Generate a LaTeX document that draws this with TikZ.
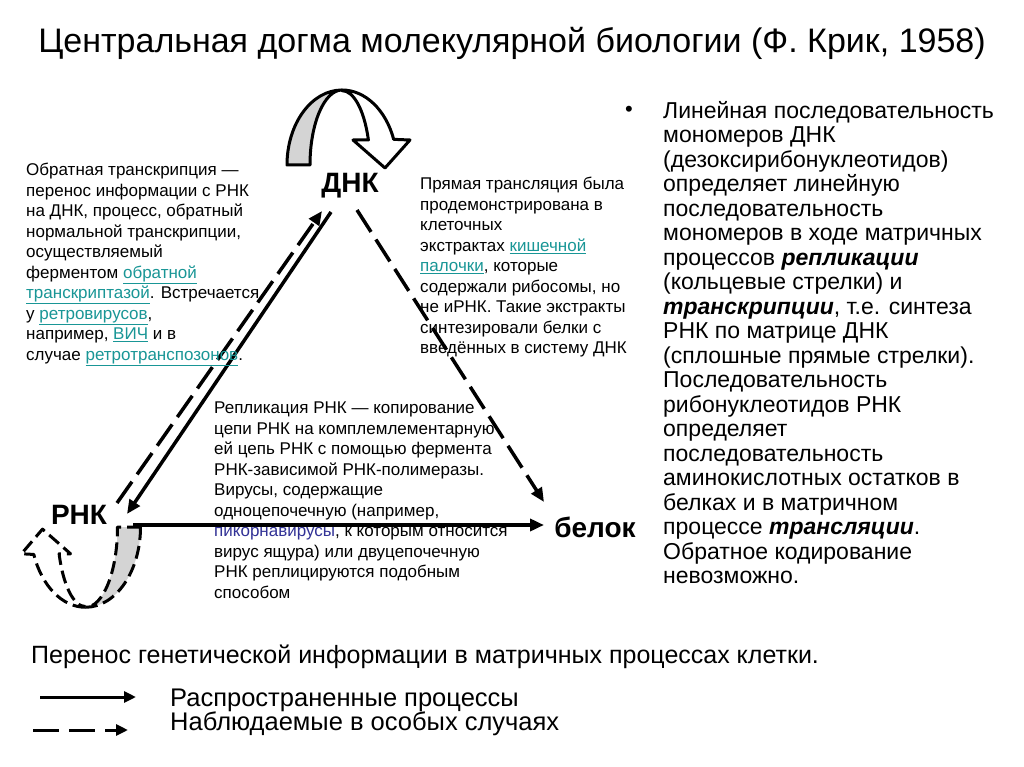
\documentclass[tikz,border=0pt]{standalone}
\usepackage{fontspec}
\setmainfont{Liberation Sans}
\usetikzlibrary{arrows.meta,calc}
\definecolor{link}{RGB}{25,150,150}
\definecolor{pico}{RGB}{50,50,150}
\definecolor{band}{RGB}{212,212,212}
\newcommand{\lnk}[1]{{\color{link}\underline{#1}}}
\newcommand{\bi}[1]{\textbf{\textit{#1}}}
\begin{document}
\begin{tikzpicture}[x=1pt,y=-1pt,
  lbl/.style={font=\fontsize{28}{32}\selectfont\bfseries, inner sep=0pt},
  small/.style={font=\fontsize{17}{20.5}\selectfont, align=left, inner sep=0pt, anchor=north west},
  big/.style={font=\fontsize{23}{24.5}\selectfont, align=left, inner sep=0pt, anchor=north west},
  solidarr/.style={line width=3.5pt, -{Triangle[length=14pt,width=12pt]}},
  dasharr/.style={solidarr, dash pattern=on 26pt off 9pt},
  loopline/.style={line width=3pt, line join=round},
]
\useasboundingbox (0,0) rectangle (1024,767);
\fill[white] (0,0) rectangle (1024,767);

% title
\node[font=\fontsize{34}{38}\selectfont, anchor=base, inner sep=0pt] (title) at (512,53)
  {Центральная догма молекулярной биологии (Ф. Крик, 1958)};

% main nodes
\node[lbl] (dna) at (350,186) {ДНК};
\node[lbl] (rna) at (79,515) {РНК};
\node[lbl] (prot) at (595,527) {белок};

% top replication loop (DNA)
\begin{scope}[shift={(342,165)}]
  \filldraw[loopline, fill=band] (-55,0) arc[start angle=180, end angle=270, x radius=55, y radius=75]
     arc[start angle=270, end angle=180, x radius=32, y radius=75] -- cycle;
  \filldraw[loopline, fill=white] (0,-75) arc[start angle=270, end angle=340, x radius=55, y radius=75]
     -- (68,-25) -- (43,3) -- (11,-25) -- (26.4,-25)
     arc[start angle=340, end angle=270, x radius=28, y radius=75] -- cycle;
\end{scope}

% bottom replication loop (RNA), dashed
\begin{scope}[shift={(85.5,527)}, rotate=180, yscale=1.07]
  \filldraw[loopline, dash pattern=on 13pt off 6pt, fill=band] (-55,0) arc[start angle=180, end angle=270, x radius=55, y radius=75]
     arc[start angle=270, end angle=180, x radius=32, y radius=75] -- cycle;
  \filldraw[loopline, dash pattern=on 13pt off 6pt, fill=white] (0,-75) arc[start angle=270, end angle=340, x radius=55, y radius=75]
     -- (64,-25) -- (43,-2) -- (15,-25) -- (26.4,-25)
     arc[start angle=340, end angle=270, x radius=28, y radius=75];
\end{scope}

% triangle connectors
\draw[solidarr] ([shift={(-19,26)}]dna.center) -- ([shift={(48,-1)}]rna.center);
\draw[dasharr] ([shift={(38,-12)}]rna.center) -- ([shift={(-28,25)}]dna.center);
\draw[dasharr] ([shift={(7,24)}]dna.center) -- ([shift={(-51,-25)}]prot.center);
\draw[solidarr] ([shift={(54,10)}]rna.center) -- ([shift={(-51,-2)}]prot.center);

% left text
\node[small] (rt) at (26,163) {Обратная транскрипция —\\
перенос информации с РНК\\
на ДНК, процесс, обратный\\
нормальной транскрипции,\\
осуществляемый\\
ферментом \lnk{обратной}\\
\lnk{транскриптазой}. Встречается\\
у \lnk{ретровирусов},\\
например, \lnk{ВИЧ} и в\\
случае \lnk{ретротранспозонов}.};

% middle text
\node[small] (tl) at (420,177) {Прямая трансляция была\\
продемонстрирована в\\
клеточных\\
экстрактах \lnk{кишечной}\\
\lnk{палочки}, которые\\
содержали рибосомы, но\\
не иРНК. Такие экстракты\\
синтезировали белки с\\
введённых в систему ДНК};

% bottom text
\node[small] (rr) at (214,402) {Репликация РНК — копирование\\
цепи РНК на комплемлементарную\\
ей цепь РНК с помощью фермента\\
РНК-зависимой РНК-полимеразы.\\
Вирусы, содержащие\\
одноцепочечную (например,\\
{\color{pico}пикорнавирусы}, к которым относится\\
вирус ящура) или двуцепочечную\\
РНК реплицируются подобным\\
способом};

% right text
\node[font=\fontsize{22}{24.5}\selectfont, inner sep=0pt] (bul) at (629,111) {•};
\node[big] (desc) at (663,101) {Линейная последовательность\\
мономеров ДНК\\
(дезоксирибонуклеотидов)\\
определяет линейную\\
последовательность\\
мономеров в ходе матричных\\
процессов \bi{репликации}\\
(кольцевые стрелки) и\\
\bi{транскрипции}, т.е. синтеза\\
РНК по матрице ДНК\\
(сплошные прямые стрелки).\\
Последовательность\\
рибонуклеотидов РНК\\
определяет\\
последовательность\\
аминокислотных остатков в\\
белках и в матричном\\
процессе \bi{трансляции}.\\
Обратное кодирование\\
невозможно.};

% caption and legend
\node[font=\fontsize{25}{28}\selectfont, anchor=base west, inner sep=0pt] (cap) at (31,663)
  {Перенос генетической информации в матричных процессах клетки.};
\coordinate (s1) at (40,697);
\coordinate (s2) at (136,697);
\coordinate (d1) at (33,730);
\coordinate (d2) at (128,730);
\draw[line width=3pt, -{Triangle[length=12pt,width=11pt]}] (s1) -- (s2);
\draw[line width=3pt, dash pattern=on 26pt off 10pt, -{Triangle[length=12pt,width=11pt]}] (d1) -- (d2);
\node[font=\fontsize{25.5}{26}\selectfont, anchor=base west, inner sep=0pt] (lg1) at (170,706) {Распространенные процессы};
\node[font=\fontsize{25.5}{26}\selectfont, anchor=base west, inner sep=0pt] (lg2) at (170,730) {Наблюдаемые в особых случаях};
\end{tikzpicture}
\end{document}
